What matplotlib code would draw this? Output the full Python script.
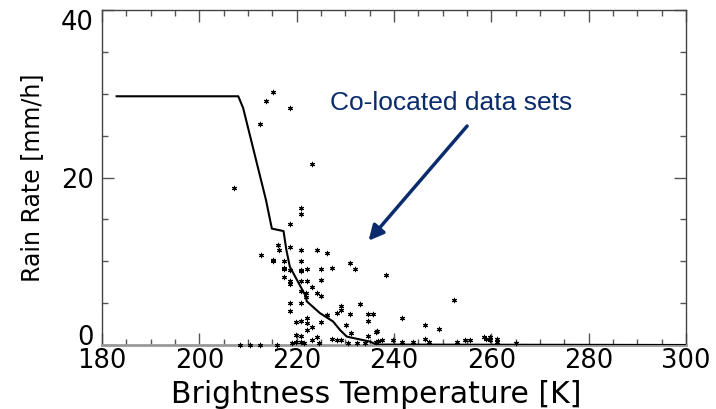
import matplotlib.pyplot as plt
import numpy as np
from matplotlib.ticker import MultipleLocator

# fitted curve (brightness temperature -> rain rate)
fit_tb = [183, 208.0, 209.0, 213.7, 214.9, 217.3, 217.9, 218.6, 221.7, 222.1,
          224.8, 227.5, 228.9, 230.3, 235.1, 236.4, 300]
fit_rr = [29.7, 29.7, 28.3, 17.3, 13.9, 13.6, 11.3, 9.35, 6.0, 5.2,
          3.8, 2.8, 1.8, 1.0, 0.4, 0.05, 0.0]

# co-located observations
obs_tb = [215.1, 213.8, 218.6, 212.5, 223.1, 207.1, 220.9, 220.9, 218.6, 216.2,
          218.6, 220.8, 216.4, 212.6, 215.1, 217.5, 224.1, 226.2, 220.8, 218.6,
          217.4, 220.8, 222.1, 225.1, 227.2, 231.0, 232.0, 217.4, 218.6, 218.6,
          220.8, 222.1, 225.1, 223.1, 220.8, 221.9, 221.9, 224.1, 225.1, 218.6,
          218.6, 220.8, 229.1, 229.2, 228.2, 226.2, 231.0, 233.0, 234.7, 235.7,
          219.9, 220.8, 222.1, 222.1, 223.1, 225.1, 230.1, 222.1, 219.9, 220.8,
          224.1, 223.1, 219.9, 220.8, 227.2, 228.2, 229.2, 234.7, 236.4, 236.4,
          238.3, 234.7, 241.6, 252.3, 246.4, 249.3, 236.6, 236.8, 237.5, 239.9,
          241.6, 244.0, 246.4, 247.2, 252.9, 254.5, 255.7, 258.4, 259.0, 259.7,
          259.7, 261.1, 261.1, 265.1, 215.1, 217.4, 220.8, 231.1, 208.4, 210.4,
          212.5, 215.9, 219.0, 221.5, 224.5, 230.5, 232.5, 234.0, 226.3]
obs_rr = [30.2, 29.1, 28.3, 26.4, 21.6, 18.8, 16.3, 15.7, 14.5, 12.0,
          11.7, 11.3, 11.3, 10.8, 10.0, 10.0, 11.3, 11.0, 10.0, 9.0,
          9.1, 8.9, 9.1, 9.1, 9.2, 9.75, 9.1, 8.1, 7.6, 7.3,
          7.6, 7.6, 7.8, 6.9, 6.4, 6.2, 5.7, 6.2, 5.8, 5.0,
          4.1, 5.0, 4.7, 4.2, 3.8, 3.6, 3.7, 4.9, 3.7, 3.7,
          2.7, 2.9, 3.2, 2.6, 2.1, 2.7, 2.4, 1.8, 1.2, 1.1,
          0.9, 0.6, 0.4, 0.4, 0.7, 0.6, 0.6, 1.1, 1.6, 0.4,
          8.4, 2.9, 3.2, 5.4, 2.4, 1.9, 1.7, 0.5, 0.6, 0.6,
          0.4, 0.4, 0.7, 0.4, 0.4, 0.6, 0.6, 0.9, 0.7, 0.9,
          0.6, 0.7, 0.4, 0.2, 10.1, 9.2, 8.8, 1.4, 0.0, 0.0,
          0.0, 0.0, 0.2, 0.2, 0.2, 0.2, 0.2, 0.2, 3.6]

fig = plt.figure(figsize=(7.16, 4.09), dpi=100)
ax = fig.add_axes([0.1425, 0.1565, 0.8155, 0.819])

ax.plot(fit_tb, fit_rr, color='black', lw=1.5, zorder=3)
ax.scatter(obs_tb, obs_rr, marker=(6, 2, 0), s=10, color='black', lw=0.8, zorder=4, clip_on=False)

ax.set_xlim(180, 300)
ax.set_ylim(0, 40)
ax.xaxis.set_major_locator(MultipleLocator(20))
ax.xaxis.set_minor_locator(MultipleLocator(5))
ax.yaxis.set_major_locator(MultipleLocator(20))
ax.yaxis.set_minor_locator(MultipleLocator(5))
ax.tick_params(which='both', direction='in', top=True, right=True, color='#555555', labelsize=18.5)
ax.tick_params(which='major', length=8.5, width=1)
ax.tick_params(which='minor', length=4.3, width=1)
ax.tick_params(axis='x', pad=2)
ax.tick_params(axis='y', pad=6)
for s in ax.spines.values():
    s.set_color('#444444')
    s.set_linewidth(1)
ax.spines['bottom'].set_linewidth(2)
ax.spines['bottom'].set_color('#999999')

ax.set_xlabel('Brightness Temperature [K]', fontsize=21.5)
ax.xaxis.set_label_coords(0.469, -0.105)
ax.set_ylabel('Rain Rate [mm/h]', fontsize=17, labelpad=12)

ax.text(251.7, 28.9, 'Co-located data sets', fontsize=19, family='Liberation Sans',
        color='#0a2c6c', ha='center', va='center')
ax.annotate('', xy=(234.4, 12.2), xytext=(255.4, 26.4),
            arrowprops=dict(arrowstyle='-|>,head_length=0.9,head_width=0.45', color='#0a2c6c', lw=2.5))

# end labels of the y axis sit inside the axis range, like the original
fig.canvas.draw()
for t in ax.yaxis.get_major_ticks():
    if abs(t.get_loc() - 0) < 1e-6:
        t.label1.set_verticalalignment('baseline')
    elif abs(t.get_loc() - 40) < 1e-6:
        t.label1.set_verticalalignment('top')

fig.savefig('out.png', dpi=100)
